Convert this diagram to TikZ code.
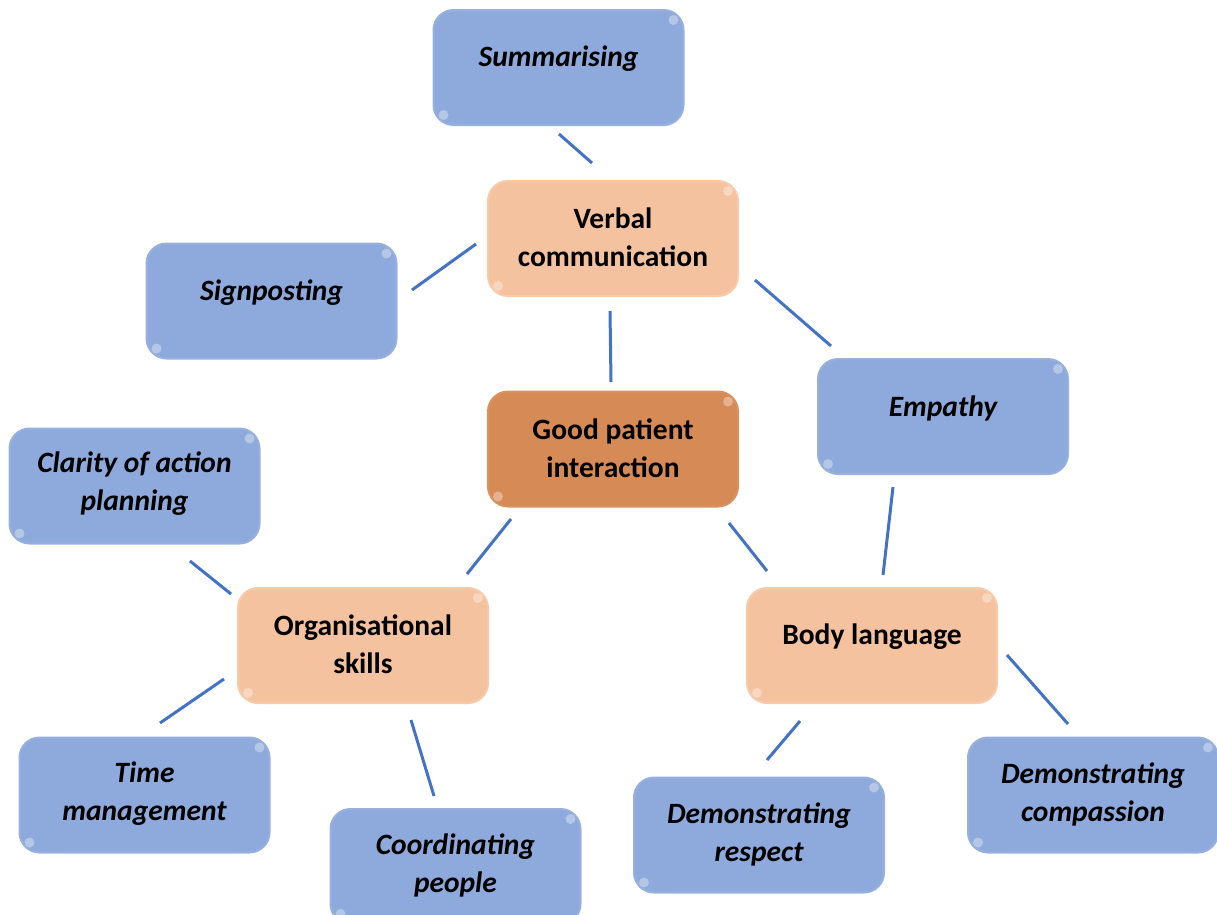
\documentclass[tikz,border=0pt]{standalone}
\usepackage{fontspec}
\setmainfont{Carlito}
\definecolor{boxblue}{HTML}{8EA9DB}
\definecolor{boxblueedge}{HTML}{97B0DE}
\definecolor{boxpeach}{HTML}{F5C29F}
\definecolor{boxpeachedge}{HTML}{F7CAA9}
\definecolor{boxdark}{HTML}{D68A55}
\definecolor{boxdarkedge}{HTML}{D9925F}
\definecolor{linkblue}{HTML}{4472C4}
\tikzset{
  basebox/.style={rounded corners=20pt, minimum width=250pt, minimum height=115pt, line width=2pt},
  bluebox/.style={basebox, fill=boxblue, draw=boxblueedge},
  peachbox/.style={basebox, fill=boxpeach, draw=boxpeachedge},
  darkbox/.style={basebox, fill=boxdark, draw=boxdarkedge},
  txt/.style={align=center, font=\fontsize{29.5}{38}\selectfont\bfseries, inner sep=0pt},
  itxt/.style={txt, font=\fontsize{29.5}{38}\selectfont\bfseries\itshape},
  link/.style={draw=linkblue, line width=3pt},
  glint/.style={fill=white, opacity=0.35},
}
\begin{document}
\begin{tikzpicture}[x=1pt,y=-1pt]
\useasboundingbox (0,0) rectangle (1217,914);
\begin{scope}
\clip (0,0) rectangle (1217,914);
% boxes
\node[bluebox] (sum) at (558.5,67.5) {};
\node[peachbox] (verb) at (613,238.5) {};
\node[bluebox] (sign) at (271.5,301) {};
\node[darkbox] (good) at (613,449) {};
\node[bluebox] (emp) at (943,416.5) {};
\node[bluebox] (clar) at (134.5,486) {};
\node[peachbox] (org) at (363,645.5) {};
\node[peachbox] (body) at (872,645.5) {};
\node[bluebox] (time) at (144.5,795) {};
\node[bluebox] (coord) at (455.5,866.5) {};
\node[bluebox] (resp) at (759,835) {};
\node[bluebox] (comp) at (1093,795) {};
\foreach \n in {sum,verb,sign,good,emp,clar,org,body,time,coord,resp,comp}{
  \fill[glint] ([shift={(-11pt,-11pt)}]\n.north east) circle (5pt);
  \fill[glint] ([shift={(11pt,11pt)}]\n.south west) circle (5pt);
}
% texts
\node[itxt] (sumt) at (558.5,59) {Summarising};
\node[txt] (verbt) at (613,237) {Verbal\\communication};
\node[itxt] (signt) at (271.5,293) {Signposting};
\node[txt] (goodt) at (613,448) {Good patient\\interaction};
\node[itxt] (empt) at (943,408) {Empathy};
\node[itxt] (clart) at (134.5,484) {Clarity of action\\planning};
\node[txt] (orgt) at (363,644) {Organisational\\skills};
\node[txt] (bodyt) at (872,637) {Body language};
\node[itxt] (timet) at (144.5,794) {Time\\management};
\node[itxt] (coordt) at (455.5,865) {Coordinating\\people};
\node[itxt] (respt) at (759,834) {Demonstrating\\respect};
\node[itxt] (compt) at (1093,794) {Demonstrating\\compassion};
\end{scope}
% connector end points (connectors do not touch the boxes)
\coordinate (a1) at (559,134); \coordinate (a2) at (592,163);
\coordinate (b1) at (412,290); \coordinate (b2) at (476,244);
\coordinate (c1) at (610,311); \coordinate (c2) at (611,382);
\coordinate (d1) at (755,280); \coordinate (d2) at (831,346);
\coordinate (e1) at (511,519); \coordinate (e2) at (467,574);
\coordinate (f1) at (729,523); \coordinate (f2) at (767,571);
\coordinate (g1) at (893,487); \coordinate (g2) at (883,575);
\coordinate (h1) at (190,561); \coordinate (h2) at (231,594);
\coordinate (i1) at (224,679); \coordinate (i2) at (160,723);
\coordinate (j1) at (411,720); \coordinate (j2) at (434,796);
\coordinate (k1) at (800,721); \coordinate (k2) at (767,760);
\coordinate (l1) at (1007,655); \coordinate (l2) at (1068,724);
\draw[link] (a1) -- (a2);
\draw[link] (b1) -- (b2);
\draw[link] (c1) -- (c2);
\draw[link] (d1) -- (d2);
\draw[link] (e1) -- (e2);
\draw[link] (f1) -- (f2);
\draw[link] (g1) -- (g2);
\draw[link] (h1) -- (h2);
\draw[link] (i1) -- (i2);
\draw[link] (j1) -- (j2);
\draw[link] (k1) -- (k2);
\draw[link] (l1) -- (l2);
\end{tikzpicture}
\end{document}
